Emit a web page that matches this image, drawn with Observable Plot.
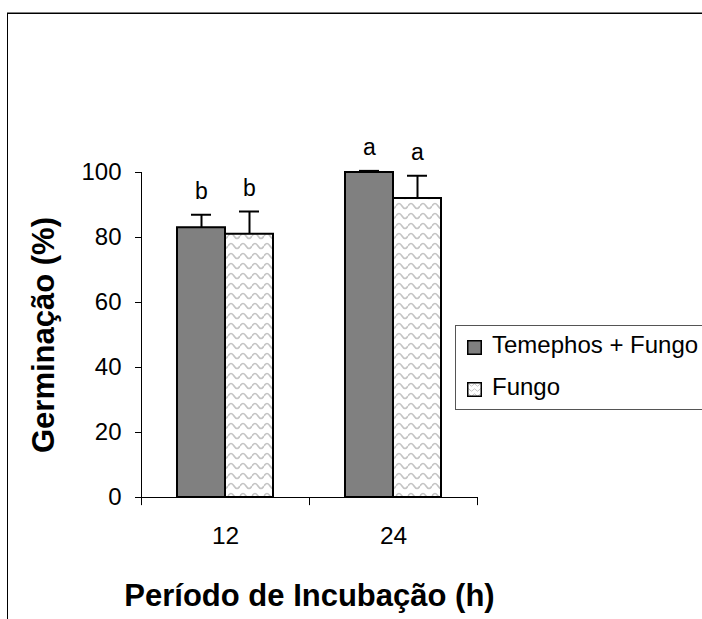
<!DOCTYPE html>
<html>
<head>
<meta charset="utf-8">
<script src="https://cdn.jsdelivr.net/npm/d3@7"></script>
<script src="https://cdn.jsdelivr.net/npm/@observablehq/plot@0.6"></script>
<style>
  html, body { margin: 0; padding: 0; background: #fff; }
  #wrap { position: relative; width: 702px; height: 619px; overflow: hidden; font-family: "Liberation Sans", Arial, sans-serif; }
  #wrap svg.plot { position: absolute; left: 0; top: 0; }
  .frameTop1 { position: absolute; left: 7px; top: 12px; width: 700px; height: 1px; background: #808080; }
  .frameTop2 { position: absolute; left: 7px; top: 13px; width: 700px; height: 1px; background: #000; }
  .frameLeft { position: absolute; left: 7px; top: 13px; width: 1px; height: 620px; background: #000; }
  #legend { position: absolute; left: 455px; top: 325px; width: 300px; height: 85px; border: 1px solid #555; background: #fff; box-sizing: border-box; }
  .item { position: absolute; left: 11px; font-size: 24px; color: #000; line-height: 1; white-space: nowrap; height: 24px; }
  .item svg { position: absolute; left: 0; }
  .item span { position: absolute; left: 25px; top: 0; white-space: nowrap; }
</style>
</head>
<body>
<div id="wrap">
  <div class="frameTop1"></div>
  <div class="frameTop2"></div>
  <div class="frameLeft"></div>
</div>
<script>
// ---- data ----
const periods = ["12", "24"];
const seriesNames = ["Temephos + Fungo", "Fungo"];
const temephosFungo = [83, 100];
const fungo = [81, 92];
const errTemephosFungo = [4, 0.5];
const errFungo = [7, 7];
const lettersTemephosFungo = ["b", "a"];
const lettersFungo = ["b", "a"];
const yTicks = [0, 20, 40, 60, 80, 100];
const yTitle = "Germinação (%)";
const xTitle = "Período de Incubação (h)";

const rows = [];
periods.forEach((p, i) => {
  rows.push({period: p, series: seriesNames[0], value: temephosFungo[i], err: errTemephosFungo[i], letter: lettersTemephosFungo[i]});
  rows.push({period: p, series: seriesNames[1], value: fungo[i], err: errFungo[i], letter: lettersFungo[i]});
});
const dark = rows.filter(d => d.series === seriesNames[0]);
const light = rows.filter(d => d.series === seriesNames[1]);

const font = "'Liberation Sans', Arial, sans-serif";

const chart = Plot.plot({
  width: 702,
  height: 619,
  marginLeft: 141,
  marginRight: 225,
  marginTop: 172,
  marginBottom: 122,
  style: {fontFamily: font, fontSize: "24px", color: "#000", background: "transparent", overflow: "visible"},
  x: {domain: periods, padding: 0, axis: null},
  y: {domain: [0, 100], axis: null},
  marks: [
    // bars
    Plot.barY(dark, {x: "period", y: "value", fill: "#808080", stroke: "#000", strokeWidth: 2, insetLeft: 36, insetRight: 84}),
    Plot.barY(light, {x: "period", y: "value", fill: "url(#wave)", stroke: "#000", strokeWidth: 2, insetLeft: 84, insetRight: 36}),
    // error bars
    Plot.ruleX(dark, {x: "period", y1: "value", y2: d => d.value + d.err, dx: -24, stroke: "#000", strokeWidth: 2}),
    Plot.ruleX(light, {x: "period", y1: "value", y2: d => d.value + d.err, dx: 24, stroke: "#000", strokeWidth: 2}),
    Plot.tickY(dark, {x: "period", y: d => d.value + d.err, insetLeft: 50, insetRight: 98, stroke: "#000", strokeWidth: 2}),
    Plot.tickY(light, {x: "period", y: d => d.value + d.err, insetLeft: 98, insetRight: 50, stroke: "#000", strokeWidth: 2}),
    // letters
    Plot.text(dark, {x: "period", y: d => d.value + d.err, text: "letter", dx: -24, dy: -23, fontSize: 23, fill: "#000"}),
    Plot.text(light, {x: "period", y: d => d.value + d.err, text: "letter", dx: 24, dy: -23, fontSize: 23, fill: "#000"}),
    // axes
    Plot.ruleY([0], {stroke: "#000", strokeWidth: 1}),
    Plot.ruleX(periods, {x: d => d, dx: -84, y1: -2.5, y2: d => d === periods[0] ? 100 : 0, stroke: "#000", strokeWidth: 1}),
    Plot.ruleX([periods[periods.length - 1]], {x: d => d, dx: 84, y1: -2.5, y2: 0, stroke: "#000", strokeWidth: 1}),
    Plot.axisY(yTicks, {tickSize: 6, tickPadding: 14, fontSize: 24, label: null, stroke: "#000", fill: "#000"}),
    Plot.axisX(periods, {tickSize: 0, tickPadding: 29, fontSize: 24.5, label: null, fill: "#000"}),
    // titles
    Plot.text([yTitle], {frameAnchor: "left", text: d => d, rotate: -90, textAnchor: "middle", dx: -97, fontSize: 31, fontWeight: "bold", fill: "#000", lineAnchor: "middle"}),
    Plot.text([xTitle], {frameAnchor: "bottom", text: d => d, dy: 99, fontSize: 31, fontWeight: "bold", fill: "#000", lineAnchor: "middle"})
  ]
});
chart.classList.add("plot");

// wave pattern definition
const svg = d3.select(chart);
const defs = svg.insert("defs", ":first-child");
const pat = defs.append("pattern").attr("id", "wave").attr("patternUnits", "userSpaceOnUse")
  .attr("width", 12).attr("height", 10);
pat.append("rect").attr("width", 12).attr("height", 10).attr("fill", "#fff");
pat.append("path").attr("d", "M0,6 Q3,1 6,6 T12,6").attr("fill", "none").attr("stroke", "#c4c4c4").attr("stroke-width", 1.6);

document.getElementById("wrap").appendChild(chart);

// legend
const legend = document.createElement("div");
legend.id = "legend";
legend.innerHTML = `
  <div class="item" style="top:7px;">
    <svg width="15" height="15" style="top:7px"><rect x="0.75" y="0.75" width="13.5" height="13.5" fill="#808080" stroke="#000" stroke-width="1.5"/></svg>
    <span>${seriesNames[0]}</span>
  </div>
  <div class="item" style="top:49px;">
    <svg width="15" height="15" style="top:7px">
      <defs><pattern id="wsm" patternUnits="userSpaceOnUse" width="6" height="5"><path d="M0,3 Q1.5,0.5 3,3 T6,3" fill="none" stroke="#c4c4c4" stroke-width="1"/></pattern></defs>
      <rect x="0.75" y="0.75" width="13.5" height="13.5" fill="#fff"/>
      <rect x="0.75" y="0.75" width="13.5" height="13.5" fill="url(#wsm)" stroke="#000" stroke-width="1.5"/></svg>
    <span>${seriesNames[1]}</span>
  </div>`;
document.getElementById("wrap").appendChild(legend);
</script>
</body>
</html>
